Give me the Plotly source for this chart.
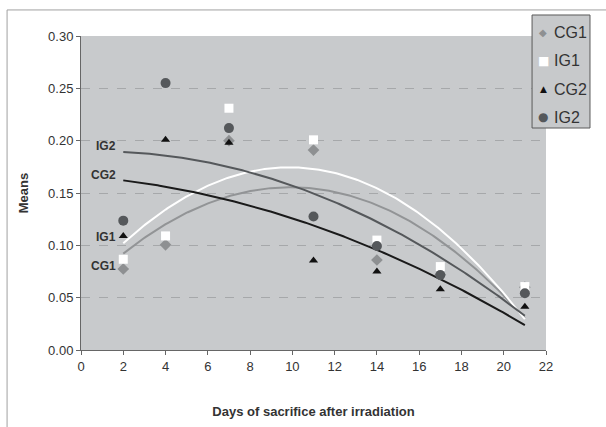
import numpy as np
import plotly.graph_objects as go

days = [2, 4, 7, 11, 14, 17, 21]
cg1 = [0.0774, 0.1005, 0.200, 0.191, 0.086, 0.072, 0.060]
ig1 = [0.0867, 0.109, 0.231, 0.2008, 0.105, 0.0797, 0.0606]
cg2 = [0.109, 0.2008, 0.198, 0.0854, 0.0749, 0.058, 0.0414]
ig2 = [0.1236, 0.255, 0.212, 0.1275, 0.0994, 0.0717, 0.0542]

names = ["CG1", "IG1", "CG2", "IG2"]
series = [cg1, ig1, cg2, ig2]
marker_styles = [
    dict(symbol="diamond", color="#8e9092", size=9, glyph="\u25c6", gsize=10),
    dict(symbol="square", color="#ffffff", size=9, glyph="\u25a0", gsize=12),
    dict(symbol="triangle-up", color="#111111", size=8, glyph="\u25b2", gsize=9),
    dict(symbol="circle", color="#55585b", size=10, glyph="\u25cf", gsize=12),
]
line_colors = ["#929496", "#ffffff", "#1a1a1a", "#55585b"]
label_y = {"IG2": 0.195, "CG2": 0.167, "IG1": 0.108, "CG1": 0.080}

fig = go.Figure()

# polynomial (order 2) trendlines, as in the original spreadsheet chart
xs = np.linspace(min(days), max(days), 200)
for name, vals, lc in zip(names, series, line_colors):
    coef = np.polyfit(days, vals, 2)
    fig.add_trace(go.Scatter(x=xs, y=np.polyval(coef, xs), mode="lines",
                             line=dict(color=lc, width=2), showlegend=False,
                             hoverinfo="skip"))

for name, vals, ms in zip(names, series, marker_styles):
    fig.add_trace(go.Scatter(x=days, y=vals, mode="markers", name=name,
                             marker=dict(symbol=ms["symbol"], color=ms["color"],
                                         size=ms["size"], line=dict(width=0)),
                             showlegend=False))

for name in names:
    fig.add_annotation(x=1.75, y=label_y[name], text="<b>%s</b>" % name,
                       showarrow=False, xanchor="right", yanchor="middle",
                       font=dict(family="Liberation Sans, Arial", size=12, color="#333333"))

# custom legend box (compact, like the original)
fig.add_shape(type="rect", xref="paper", yref="paper", x0=0.970, x1=1.0946,
              y0=0.707, y1=1.0669, fillcolor="#c7c9cb",
              line=dict(color="#5a5a5a", width=1), layer="above")
leg_y = [1.0096, 0.9204, 0.8312, 0.742]
for name, ms, ly in zip(names, marker_styles, leg_y):
    fig.add_annotation(xref="paper", yref="paper", x=0.994, y=ly, text=ms["glyph"],
                       showarrow=False, xanchor="center", yanchor="middle",
                       font=dict(family="DejaVu Sans", size=ms["gsize"], color=ms["color"]))
    fig.add_annotation(xref="paper", yref="paper", x=1.013, y=ly, text=name,
                       showarrow=False, xanchor="left", yanchor="middle",
                       font=dict(family="Liberation Sans, Arial", size=16, color="#333333"))

# outer frame lines
fig.add_shape(type="line", xref="paper", yref="paper", x0=-0.159, x1=1.2,
              y0=1.083, y1=1.083, line=dict(color="#a0a0a0", width=1))
fig.add_shape(type="line", xref="paper", yref="paper", x0=-0.159, x1=-0.159,
              y0=1.083, y1=-0.3, line=dict(color="#a0a0a0", width=1))

fig.update_layout(
    width=606, height=427,
    margin=dict(l=81, r=60, t=36, b=77, autoexpand=False),
    paper_bgcolor="white",
    plot_bgcolor="#c8cacc",
    showlegend=False,
    font=dict(family="Liberation Sans, Arial", size=13, color="#333333"),
    xaxis=dict(range=[0, 22], dtick=2, tick0=0, showgrid=False, zeroline=False,
               showline=True, linecolor="#666666", linewidth=1, automargin=False,
               ticks="outside", ticklen=4, tickcolor="#666666",
               title=dict(text="<b>Days of sacrifice after irradiation</b>",
                          font=dict(size=13), standoff=34)),
    yaxis=dict(range=[0, 0.30], dtick=0.05, tickformat=".2f", showgrid=True,
               gridcolor="#a6a8aa", griddash="dash", gridwidth=1, zeroline=False,
               showline=True, linecolor="#666666", linewidth=1, automargin=False,
               ticks="outside", ticklen=4, tickcolor="#666666",
               title=dict(text="<b>Means</b>", font=dict(size=13), standoff=16)),
)

fig.write_html("out.html", config={"displayModeBar": False},
               post_script="document.body.style.margin='0';")
